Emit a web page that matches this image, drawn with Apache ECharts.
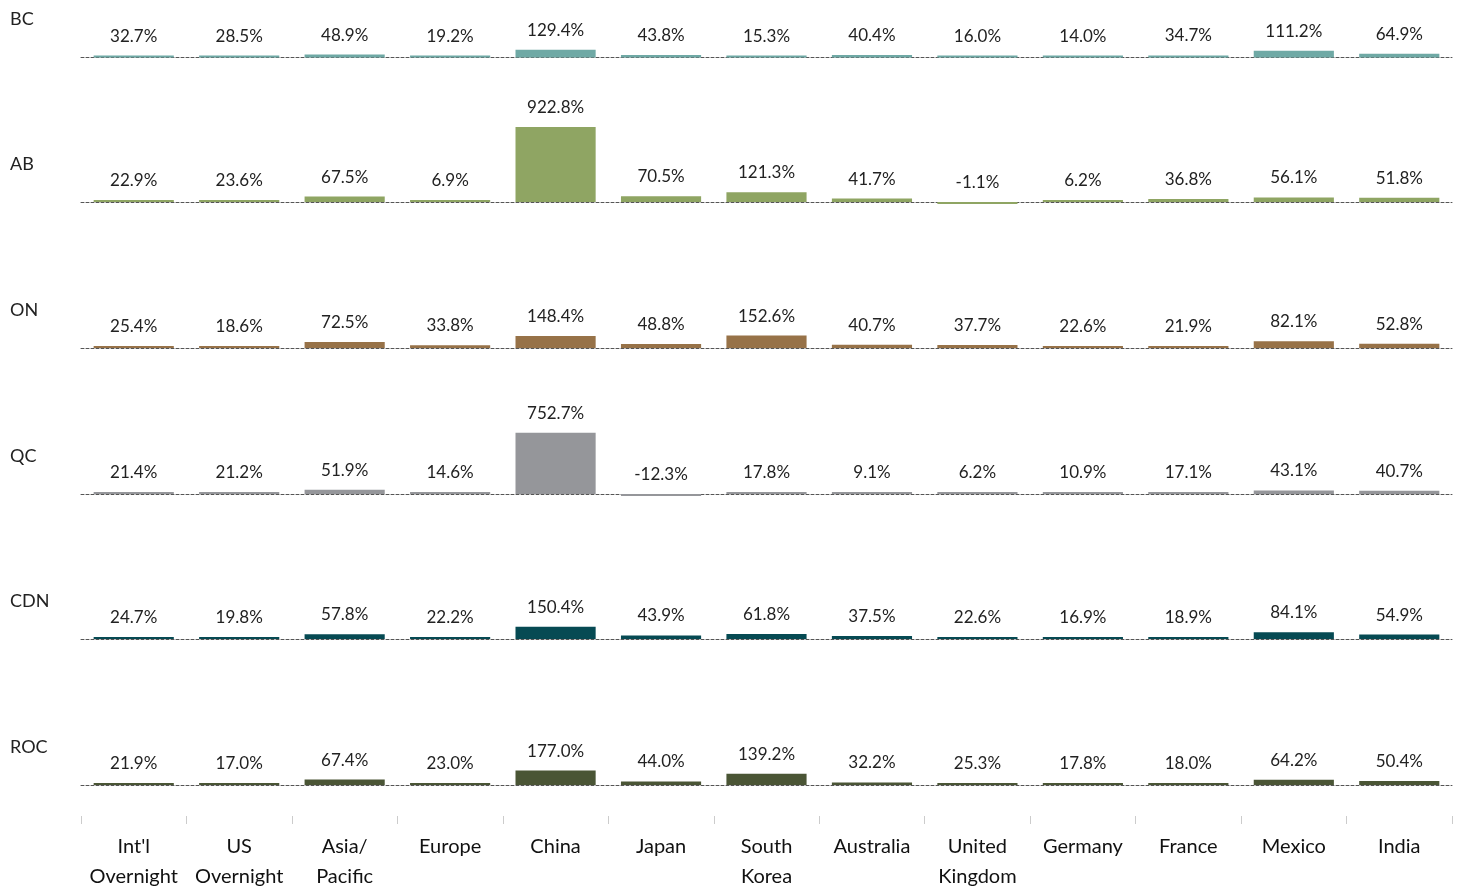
<!DOCTYPE html>
<html>
<head>
<meta charset="utf-8">
<script src="https://cdn.jsdelivr.net/npm/echarts@6/dist/echarts.min.js"></script>
<style>
  html, body { margin: 0; padding: 0; background: #fff; }
  #main { width: 1459px; height: 889px; }
</style>
</head>
<body>
<div id="main"></div>
<script>
// categories across the bottom
const categories = ['Int\'l\nOvernight', 'US\nOvernight', 'Asia/\nPacific', 'Europe', 'China', 'Japan',
  'South\nKorea', 'Australia', 'United\nKingdom', 'Germany', 'France', 'Mexico', 'India'];

// one row per region
const regions = ['BC', 'AB', 'ON', 'QC', 'CDN', 'ROC'];
const colors = ['#6fa9a5', '#8fa563', '#977248', '#95969a', '#064a53', '#4a5535'];

const bc  = [32.7, 28.5, 48.9, 19.2, 129.4, 43.8, 15.3, 40.4, 16.0, 14.0, 34.7, 111.2, 64.9];
const ab  = [22.9, 23.6, 67.5, 6.9, 922.8, 70.5, 121.3, 41.7, -1.1, 6.2, 36.8, 56.1, 51.8];
const on  = [25.4, 18.6, 72.5, 33.8, 148.4, 48.8, 152.6, 40.7, 37.7, 22.6, 21.9, 82.1, 52.8];
const qc  = [21.4, 21.2, 51.9, 14.6, 752.7, -12.3, 17.8, 9.1, 6.2, 10.9, 17.1, 43.1, 40.7];
const cdn = [24.7, 19.8, 57.8, 22.2, 150.4, 43.9, 61.8, 37.5, 22.6, 16.9, 18.9, 84.1, 54.9];
const roc = [21.9, 17.0, 67.4, 23.0, 177.0, 44.0, 139.2, 32.2, 25.3, 17.8, 18.0, 64.2, 50.4];
const rows = [bc, ab, on, qc, cdn, roc];

const font = 'Lato, "Noto Sans", sans-serif';
const baselines = [57, 202, 348, 494, 639, 785];
const H = 80, yMin = -25, yMax = 960;
const zeroOff = H * yMax / (yMax - yMin);

const chart = echarts.init(document.getElementById('main'));

const grid = [], xAxis = [], yAxis = [], series = [], title = [];
rows.forEach(function (d, i) {
  grid.push({ left: 81, right: 7, top: baselines[i] - zeroOff, height: H });
  xAxis.push({
    type: 'category', gridIndex: i, data: categories,
    axisLine: { show: true, onZero: true, lineStyle: { color: '#555', type: [3, 2], width: 1 } },
    axisTick: { show: false }, axisLabel: { show: false }
  });
  yAxis.push({ type: 'value', gridIndex: i, min: yMin, max: yMax, show: false, splitLine: { show: false } });
  series.push({
    type: 'bar', xAxisIndex: i, yAxisIndex: i, data: d,
    barWidth: '76%', barMinHeight: 2,
    itemStyle: { color: colors[i] },
    label: {
      show: true, position: 'top', distance: 11,
      formatter: function (p) { return p.value.toFixed(1) + '%'; },
      fontFamily: font, fontSize: 17, color: '#222'
    }
  });
  title.push({
    text: regions[i], left: 5, top: baselines[i] - 52, padding: [5, 5],
    textStyle: { fontFamily: font, fontSize: 18, fontWeight: 'normal', color: '#222' }
  });
});

// bottom axis with category labels
grid.push({ left: 81, right: 7, top: 822, height: 8 });
xAxis.push({
  type: 'category', gridIndex: 6, data: categories,
  axisLine: { show: false },
  axisTick: { show: true, inside: true, length: 8, lineStyle: { color: '#ccc' } },
  axisLabel: { margin: 8, fontFamily: font, fontSize: 20, color: '#111', lineHeight: 30, interval: 0 }
});
yAxis.push({ type: 'value', gridIndex: 6, show: false });

chart.setOption({
  animation: false,
  title: title,
  grid: grid,
  xAxis: xAxis,
  yAxis: yAxis,
  series: series
});
</script>
</body>
</html>
